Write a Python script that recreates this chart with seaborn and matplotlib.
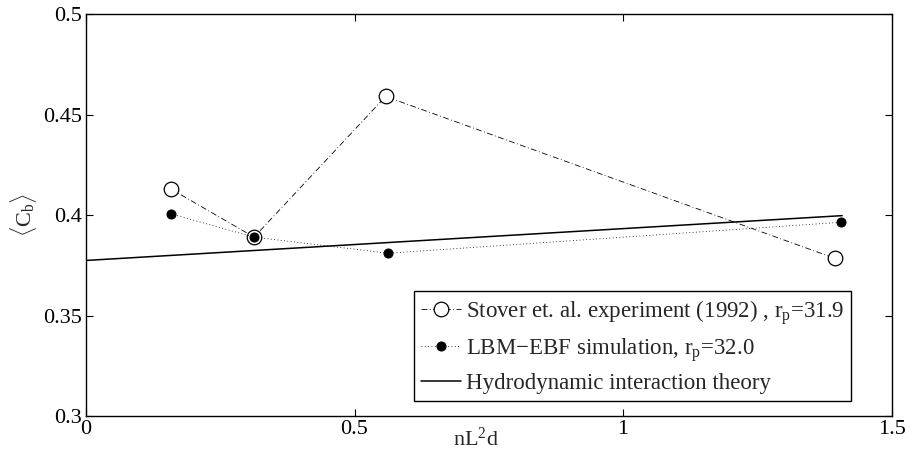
import matplotlib
matplotlib.use("Agg")
import matplotlib.pyplot as plt
import seaborn as sns
import numpy as np

# Stover et al. experiment (1992)
stover_x = [0.158, 0.313, 0.558, 1.394]
stover_y = [0.413, 0.389, 0.459, 0.3785]

# LBM-EBF simulation
lbm_x = [0.158, 0.313, 0.563, 1.406]
lbm_y = [0.4006, 0.389, 0.381, 0.3964]

# Hydrodynamic interaction theory
theory_x = [0.0, 1.408]
theory_y = [0.3774, 0.3997]

sns.set_theme(style="white")
plt.rcParams["font.family"] = ["Liberation Serif", "DejaVu Serif"]
plt.rcParams["mathtext.fontset"] = "custom"
plt.rcParams["mathtext.rm"] = "Liberation Serif"
plt.rcParams["mathtext.it"] = "Liberation Serif:italic"

fig = plt.figure(figsize=(9.07, 4.54), dpi=100)
ax = fig.add_axes([0.0948, 0.0837, 0.8882, 0.8853])

sns.lineplot(x=stover_x, y=stover_y, ax=ax, color="black", linestyle=(0, (7, 3, 1, 3)),
             linewidth=0.6, marker="o", markersize=10.5, markerfacecolor="white",
             markeredgecolor="black", markeredgewidth=0.9, estimator=None, sort=False,
             label="Stover et. al. experiment (1992) , r$_\\mathrm{p}$=31.9")
sns.lineplot(x=lbm_x, y=lbm_y, ax=ax, color="black", linestyle=(0, (1, 3)),
             linewidth=0.6, marker="o", markersize=6.5, markerfacecolor="black",
             markeredgecolor="black", estimator=None, sort=False,
             label="LBM\u2212EBF simulation, r$_\\mathrm{p}$=32.0")
sns.lineplot(x=theory_x, y=theory_y, ax=ax, color="black", linewidth=1.1,
             estimator=None, sort=False, label="Hydrodynamic interaction theory")

ax.set_xlim(0, 1.5)
ax.set_ylim(0.3, 0.5)
ax.set_xticks([0, 0.5, 1, 1.5])
ax.set_xticklabels(["0", "0.5", "1", "1.5"])
ax.set_yticks([0.3, 0.35, 0.4, 0.45, 0.5])
ax.set_yticklabels(["0.3", "0.35", "0.4", "0.45", "0.5"])
ax.tick_params(direction="in", length=5, width=0.8, labelsize=16, top=True, right=True,
               bottom=True, left=True, pad=3, colors="black")

for s in ax.spines.values():
    s.set_color("black")
    s.set_linewidth(1.0)

ax.set_xlabel("nL$^\\mathrm{2}$d", fontsize=16)
ax.xaxis.set_label_coords(0.484, -0.028)
ax.set_ylabel("$\\langle\\mathrm{C}_\\mathrm{b}\\rangle$", fontsize=16)
ax.yaxis.set_label_coords(-0.058, 0.5)

leg = ax.legend(loc="lower right", bbox_to_anchor=(0.95, 0.038), fontsize=16.5,
                frameon=True, fancybox=False, edgecolor="black", framealpha=1,
                handlelength=1.75, handletextpad=0.2, borderpad=0.3, labelspacing=0.4,
                borderaxespad=0)
leg.get_frame().set_linewidth(1.0)

fig.savefig("out.png", dpi=100)
